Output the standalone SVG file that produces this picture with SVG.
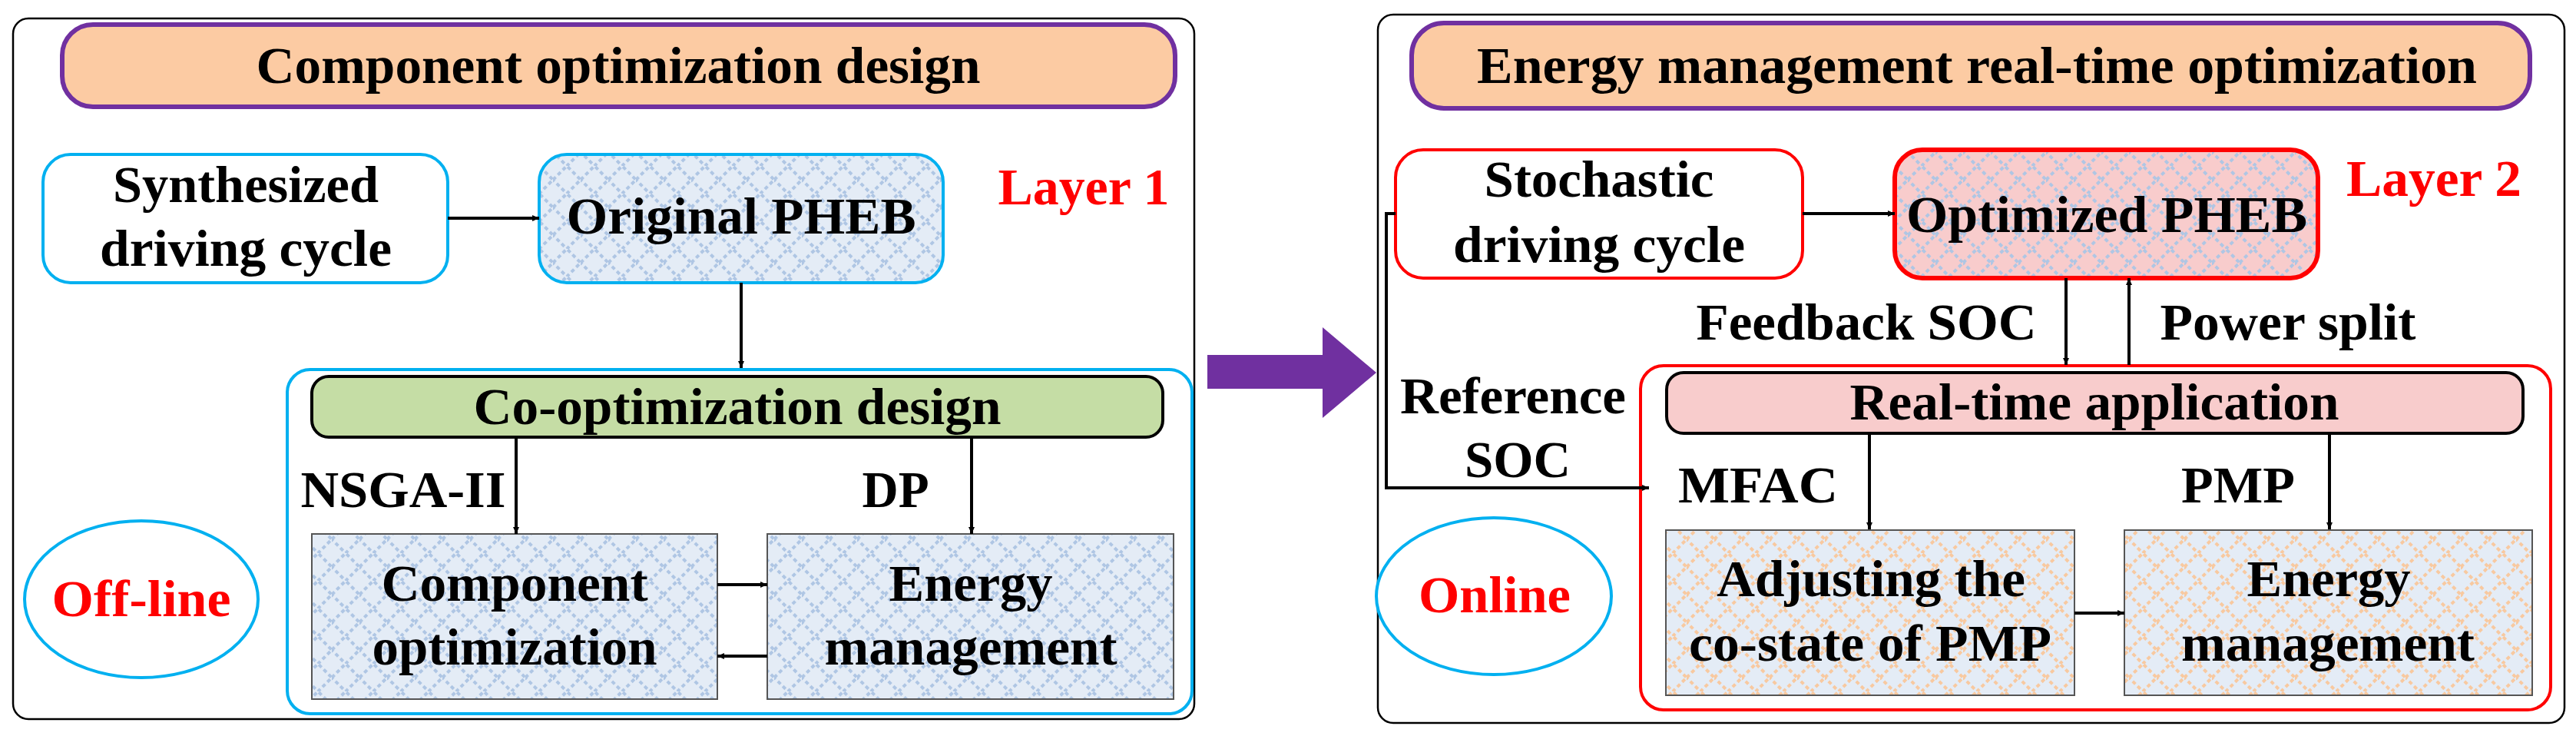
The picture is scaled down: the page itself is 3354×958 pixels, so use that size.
<svg xmlns="http://www.w3.org/2000/svg" width="3354" height="958" viewBox="0 0 3354 958">
<style>
text{font-family:"Liberation Serif","Times New Roman",serif;font-weight:bold;font-size:68px;text-anchor:middle;fill:#000}
.red{fill:#FF0000}
.ln{stroke:#000;stroke-width:4;fill:none}
.pill{fill:#FCCBA3;stroke:#7030A0;stroke-width:6}
.panel{fill:#fff;stroke:#000;stroke-width:2.5}
</style>
<defs>
<marker id="ah" viewBox="0 0 10 10" refX="10" refY="5" markerWidth="5" markerHeight="5" orient="auto" markerUnits="userSpaceOnUse" style="overflow:visible">
<path d="M0,0 L10,5 L0,10 Z" fill="#000" transform="scale(1.8 1.6) translate(-4.4 -1.9)"/>
</marker>
<pattern id="pb" width="36" height="36" patternUnits="userSpaceOnUse">
<rect width="36" height="36" fill="#E4ECF6"/>
<path d="M0,18 L18,0 L36,18 L18,36 Z" fill="none" stroke="#AFC6E4" stroke-width="4" stroke-dasharray="5 4"/>
</pattern>
<pattern id="pr" width="36" height="36" patternUnits="userSpaceOnUse">
<rect width="36" height="36" fill="#F8CCCC"/>
<path d="M0,18 L18,0 L36,18 L18,36 Z" fill="none" stroke="#AFC6E4" stroke-width="4" stroke-dasharray="5 4"/>
</pattern>
<pattern id="po" width="36" height="36" patternUnits="userSpaceOnUse">
<rect width="36" height="36" fill="#E4ECF6"/>
<path d="M0,18 L18,0 L36,18 L18,36 Z" fill="none" stroke="#F8C9A0" stroke-width="4" stroke-dasharray="5 4"/>
</pattern>
</defs>

<g id="left-panel">
<rect class="panel" x="17" y="24" width="1538" height="912" rx="20"/>
<rect class="pill" x="81" y="32" width="1449" height="107" rx="40"/>
<text x="805" y="108" textLength="943" lengthAdjust="spacingAndGlyphs">Component optimization design</text>
</g>
<g id="synth">
<rect x="56" y="201" width="527" height="167" rx="36" fill="#fff" stroke="#00B0F0" stroke-width="4"/>
<text x="320" y="263" textLength="346" lengthAdjust="spacingAndGlyphs">Synthesized</text>
<text x="320" y="346" textLength="380" lengthAdjust="spacingAndGlyphs">driving cycle</text>
</g>
<g id="orig">
<rect x="702" y="201" width="526" height="167" rx="36" fill="url(#pb)" stroke="#00B0F0" stroke-width="4"/>
<text x="965" y="304" textLength="455" lengthAdjust="spacingAndGlyphs">Original PHEB</text>
</g>
<text class="red" x="1411" y="266" textLength="223" lengthAdjust="spacingAndGlyphs">Layer 1</text>
<g id="coopt">
<rect x="374" y="481" width="1178" height="448" rx="30" fill="none" stroke="#00B0F0" stroke-width="4"/>
<rect x="406" y="490" width="1108" height="79" rx="22" fill="#C5DDA5" stroke="#000" stroke-width="4"/>
<text x="960" y="552" textLength="687" lengthAdjust="spacingAndGlyphs">Co-optimization design</text>
<text x="525" y="660" textLength="267" lengthAdjust="spacingAndGlyphs">NSGA-II</text>
<text x="1166" y="660" textLength="87" lengthAdjust="spacingAndGlyphs">DP</text>
</g>
<g id="comp">
<rect x="406" y="695" width="528" height="215" fill="url(#pb)" stroke="#555" stroke-width="2"/>
<text x="670" y="782" textLength="347" lengthAdjust="spacingAndGlyphs">Component</text>
<text x="670" y="865" textLength="371" lengthAdjust="spacingAndGlyphs">optimization</text>
</g>
<g id="energy1">
<rect x="999" y="695" width="529" height="215" fill="url(#pb)" stroke="#555" stroke-width="2"/>
<text x="1264" y="782" textLength="213" lengthAdjust="spacingAndGlyphs">Energy</text>
<text x="1264" y="865" textLength="381" lengthAdjust="spacingAndGlyphs">management</text>
</g>
<g id="offline">
<ellipse cx="184" cy="780" rx="152" ry="102" fill="#fff" stroke="#00B0F0" stroke-width="4"/>
<text class="red" x="184" y="802" textLength="233" lengthAdjust="spacingAndGlyphs">Off-line</text>
</g>

<g id="bigarrow">
<path d="M1572,462 L1722,462 L1722,426 L1792,485 L1722,544 L1722,506 L1572,506 Z" fill="#7030A0"/>
</g>

<g id="right-panel">
<rect class="panel" x="1794" y="19" width="1545" height="922" rx="20"/>
<rect class="pill" x="1838" y="30" width="1456" height="111" rx="42"/>
<text x="2574" y="108" textLength="1302" lengthAdjust="spacingAndGlyphs">Energy management real-time optimization</text>
</g>
<g id="stoch">
<rect x="1817" y="195" width="530" height="167" rx="36" fill="#fff" stroke="#FF0000" stroke-width="4"/>
<text x="2082" y="256" textLength="299" lengthAdjust="spacingAndGlyphs">Stochastic</text>
<text x="2082" y="341" textLength="380" lengthAdjust="spacingAndGlyphs">driving cycle</text>
</g>
<g id="optim">
<rect x="2467" y="195" width="551" height="167" rx="36" fill="url(#pr)" stroke="#FF0000" stroke-width="6"/>
<text x="2743" y="302" textLength="522" lengthAdjust="spacingAndGlyphs">Optimized PHEB</text>
</g>
<text class="red" x="3169" y="255" textLength="228" lengthAdjust="spacingAndGlyphs">Layer 2</text>
<text x="2430" y="442" textLength="443" lengthAdjust="spacingAndGlyphs">Feedback SOC</text>
<text x="2979" y="442" textLength="333" lengthAdjust="spacingAndGlyphs">Power split</text>
<text x="1970" y="538" textLength="294" lengthAdjust="spacingAndGlyphs">Reference</text>
<text x="1976" y="621" textLength="138" lengthAdjust="spacingAndGlyphs">SOC</text>
<g id="realtime">
<rect x="2136" y="476" width="1185" height="448" rx="30" fill="none" stroke="#FF0000" stroke-width="4"/>
<rect x="2170" y="485" width="1115" height="79" rx="22" fill="#F8CCCC" stroke="#000" stroke-width="4"/>
<text x="2727" y="546" textLength="637" lengthAdjust="spacingAndGlyphs">Real-time application</text>
<text x="2289" y="654" textLength="208" lengthAdjust="spacingAndGlyphs">MFAC</text>
<text x="2914" y="654" textLength="148" lengthAdjust="spacingAndGlyphs">PMP</text>
</g>
<g id="adjust">
<rect x="2169" y="690" width="532" height="215" fill="url(#po)" stroke="#555" stroke-width="2"/>
<text x="2436" y="776" textLength="402" lengthAdjust="spacingAndGlyphs">Adjusting the</text>
<text x="2435" y="860" textLength="472" lengthAdjust="spacingAndGlyphs">co-state of PMP</text>
</g>
<g id="energy2">
<rect x="2766" y="690" width="531" height="215" fill="url(#po)" stroke="#555" stroke-width="2"/>
<text x="3032" y="776" textLength="213" lengthAdjust="spacingAndGlyphs">Energy</text>
<text x="3031" y="860" textLength="382" lengthAdjust="spacingAndGlyphs">management</text>
</g>
<g id="online">
<ellipse cx="1945" cy="776" rx="153" ry="102" fill="#fff" stroke="#00B0F0" stroke-width="4"/>
<text class="red" x="1946" y="797" textLength="198" lengthAdjust="spacingAndGlyphs">Online</text>
</g>

<g id="connectors" class="ln" marker-end="url(#ah)">
<path d="M583,284 L702,284"/>
<path d="M965,368 L965,479"/>
<path d="M672,569 L672,695"/>
<path d="M1265,569 L1265,695"/>
<path d="M934,761 L999,761"/>
<path d="M999,854 L934,854"/>
<path d="M2347,278 L2467,278"/>
<path d="M2690,362 L2690,475"/>
<path d="M2772,475 L2772,362"/>
<path d="M1817,278 L1805,278 L1805,635 L2147,635"/>
<path d="M2434,564 L2434,689"/>
<path d="M3033,564 L3033,689"/>
<path d="M2701,798 L2766,798"/>
</g>
</svg>
